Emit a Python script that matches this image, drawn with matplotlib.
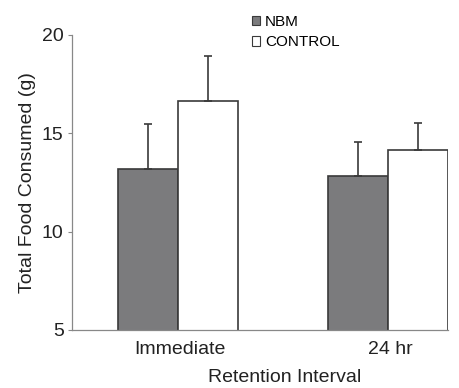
import matplotlib
matplotlib.use("Agg")
import matplotlib.pyplot as plt
import numpy as np

categories = ["Immediate", "24 hr"]
nbm_means = [13.2, 12.85]
nbm_err = [2.25, 1.7]
control_means = [16.65, 14.15]
control_err = [2.3, 1.35]
yticks = [5, 10, 15, 20]

plt.rcParams['font.family'] = ['Liberation Sans', 'DejaVu Sans']

fig = plt.figure(figsize=(4.6, 3.88), dpi=100)
ax = fig.add_axes([0.1565, 0.1495, 0.8175, 0.7603])

x = np.arange(len(categories))
w = 0.286
edge = "#3a3a3a"
ax.bar(x - w / 2, nbm_means, w, bottom=0, color="#7b7b7d", edgecolor=edge, linewidth=1.2,
       yerr=[np.zeros(len(x)), nbm_err], error_kw=dict(ecolor=edge, elinewidth=1.2, capsize=3, capthick=1.2),
       label="NBM", zorder=2)
ax.bar(x + w / 2, control_means, w, bottom=0, color="white", edgecolor=edge, linewidth=1.2,
       yerr=[np.zeros(len(x)), control_err], error_kw=dict(ecolor=edge, elinewidth=1.2, capsize=3, capthick=1.2),
       label="CONTROL", zorder=2)

ax.set_ylim(5, 20)
ax.set_xlim(-0.505, 1.286)
ax.set_yticks(yticks)
ax.set_yticklabels([str(t) for t in yticks], fontsize=14, color="#222222")
ax.set_xticks(x + 0.01)
ax.set_xticklabels(categories, fontsize=14, color="#222222")
ax.tick_params(axis="x", length=0, pad=8)
ax.tick_params(axis="y", length=3, width=0.8, color="#888888", pad=3)
for s in ["top", "right"]:
    ax.spines[s].set_visible(False)
for s in ["left", "bottom"]:
    ax.spines[s].set_color("#888888")
    ax.spines[s].set_linewidth(0.9)

ax.set_ylabel("Total Food Consumed (g)", fontsize=14, color="#222222", labelpad=4)
ax.set_xlabel("Retention Interval", fontsize=14, color="#222222")
ax.xaxis.set_label_coords(0.566, -0.133)

leg = fig.legend(loc="upper left", bbox_to_anchor=(0.518, 0.998), frameon=False, fontsize=11,
                 handlelength=0.55, handleheight=0.55, handletextpad=0.3, labelspacing=0.45)
for h in leg.legend_handles:
    h.set_linewidth(0.8)

fig.savefig("out.png", dpi=100)
